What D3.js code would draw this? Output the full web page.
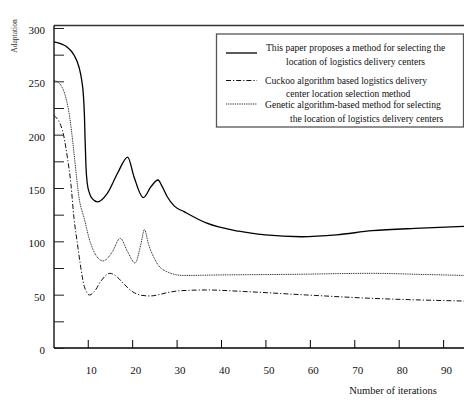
<!DOCTYPE html>
<html>
<head>
<meta charset="utf-8">
<script src="https://cdn.jsdelivr.net/npm/d3@7"></script>
<style>
  body { margin: 0; background: #fff; }
  svg text { font-family: "Liberation Serif", "Times New Roman", "DejaVu Serif", serif; }
</style>
</head>
<body>
<div id="chart"></div>
<script>
// values
const paperX = [2.4, 5.4, 6.9, 8.0, 8.6, 9.0, 9.25, 9.4, 9.6, 9.9, 10.4, 11, 12.2, 14.4, 16.7, 19, 20.4, 22.5, 24.2, 25.8, 26.8, 27.9, 29.5, 31.7, 36.8, 44, 50, 58, 66, 74, 85, 95];
const paperY = [287, 282, 274.7, 263.7, 252, 238, 218, 195, 170, 154, 145, 140, 137, 145, 163.8, 179, 160.6, 141, 151, 157.5, 151, 141.8, 133, 127.8, 117, 109.5, 106, 104.3, 106, 110, 112.3, 114];

const cuckooX = [2.4, 4.3, 5.4, 6.2, 6.9, 7.6, 8.3, 9.2, 10.4, 11.5, 13, 15, 16.5, 18, 20, 22, 24, 26, 28, 30.8, 36.8, 45, 59.3, 74.3, 85, 95];
const cuckooY = [218, 204, 179, 154, 121.6, 100, 79, 58, 49.7, 53, 63, 70, 67, 60.6, 53, 49.5, 48.75, 50, 52, 53.7, 54.4, 53, 49.7, 46.5, 45, 44];

const geneticX = [2.4, 3.9, 5.0, 5.8, 6.5, 7.3, 8.0, 9.2, 10.5, 12, 13.5, 15.5, 17.3, 19, 20.65, 22, 22.75, 23.7, 24.8, 26, 27.8, 31.5, 40, 55, 74, 85, 95];
const geneticY = [251, 246.6, 235.6, 220, 198, 167, 141.8, 121.6, 100, 86, 81.6, 90, 102.8, 90, 79.7, 98, 111, 97, 85.6, 77, 71.6, 68, 68.5, 69, 70, 69, 68];

const xTicks = [10, 20, 30, 40, 50, 60, 70, 80, 90];
const yTicks = [0, 25, 50, 75, 100, 125, 150, 175, 200, 225, 250, 275, 300];

const legendLabels = [
  ["This paper proposes a method for selecting the", "location of logistics delivery centers"],
  ["Cuckoo algorithm based logistics delivery", "center location selection method"],
  ["Genetic algorithm-based method for selecting", "the location of logistics delivery centers"],
];
const yTitle = "Adaptation";
const xTitle = "Number of iterations";

const width = 464, height = 405;
const margin = { top: 28, right: 0, bottom: 57, left: 54 };
const serif = "Liberation Serif, Times New Roman, DejaVu Serif, serif";

const svg = d3.select("#chart").append("svg")
  .attr("width", width)
  .attr("height", height)
  .attr("font-family", serif);

const x = d3.scaleLinear()
  .domain([2.4, 94.7])
  .range([margin.left, width - margin.right]);

const y = d3.scaleLinear()
  .domain([0, 300])
  .range([height - margin.bottom, margin.top]);

// frame line on top
svg.append("line")
  .attr("x1", margin.left).attr("x2", width)
  .attr("y1", 25.5).attr("y2", 25.5)
  .attr("stroke", "#333").attr("stroke-width", 1.3);

svg.append("g")
  .attr("transform", `translate(0,${y(0)})`)
  .call(d3.axisBottom(x)
    .tickValues(xTicks)
    .tickSizeInner(-8)
    .tickSizeOuter(0)
    .tickPadding(18))
  .attr("font-family", serif)
  .call(g => g.select(".domain").attr("d", `M${margin.left},0H${width}`).attr("stroke-width", 1.3))
  .call(g => g.selectAll("text").attr("font-size", 11).attr("fill", "#111").attr("dx", 3));

svg.append("g")
  .attr("transform", `translate(${margin.left},0)`)
  .call(d3.axisLeft(y)
    .tickValues(yTicks)
    .tickFormat(d => d % 50 == 0 ? d : "")
    .tickSizeInner(-10)
    .tickSizeOuter(0)
    .tickPadding(9))
  .attr("font-family", serif)
  .call(g => g.select(".domain").attr("d", `M0,${y(0)}V25.5`).attr("stroke-width", 1.3))
  .call(g => g.selectAll("line").attr("stroke", "#222"))
  .call(g => g.selectAll("text").attr("font-size", 11).attr("fill", "#111").attr("dy", "0.5em"));

// y title, reads bottom to top
svg.append("text")
  .attr("transform", "translate(17,36) rotate(-90)")
  .attr("text-anchor", "middle")
  .attr("font-size", 7.5)
  .attr("fill", "#333")
  .text(yTitle);

svg.append("text")
  .attr("x", 393)
  .attr("y", 394)
  .attr("text-anchor", "middle")
  .attr("font-size", 10.5)
  .attr("fill", "#111")
  .text(xTitle);

svg.append("clipPath").attr("id", "plot")
  .append("rect")
  .attr("x", margin.left).attr("y", 20)
  .attr("width", width - margin.left).attr("height", y(0) - 20);

const series = [
  { xs: paperX, ys: paperY, dash: null, width: 1.3, color: "#000" },
  { xs: cuckooX, ys: cuckooY, dash: "5,2,1.2,2", width: 1, color: "#111" },
  { xs: geneticX, ys: geneticY, dash: "1,0.8", width: 1, color: "#222" },
];

const line = d3.line()
  .x(d => x(d[0]))
  .y(d => y(d[1]))
  .curve(d3.curveMonotoneX);

svg.append("g")
  .attr("clip-path", "url(#plot)")
  .selectAll("path")
  .data(series)
  .join("path")
  .attr("d", s => line(s.xs.map((v, i) => [v, s.ys[i]])))
  .attr("fill", "none")
  .attr("stroke", s => s.color)
  .attr("stroke-width", s => s.width)
  .attr("stroke-dasharray", s => s.dash);

// legend
const legend = svg.append("g");

legend.append("rect")
  .attr("x", 216.5).attr("y", 34)
  .attr("width", 247).attr("height", 93)
  .attr("fill", "#fff")
  .attr("stroke", "#555")
  .attr("stroke-width", 1.3);

const legendRows = [
  { lineY: 53, textY: 51, indent: [266, 286] },
  { lineY: 80.5, textY: 83.5, indent: [265, 286] },
  { lineY: 104, textY: 108, indent: [265, 290] },
];

legendRows.forEach((r, i) => {
  legend.append("line")
    .attr("x1", 226).attr("x2", 257)
    .attr("y1", r.lineY).attr("y2", r.lineY)
    .attr("stroke", series[i].color)
    .attr("stroke-width", series[i].width)
    .attr("stroke-dasharray", series[i].dash);

  legendLabels[i].forEach((t, j) => {
    legend.append("text")
      .attr("x", r.indent[j])
      .attr("y", r.textY + j * 13.5)
      .attr("font-size", 9.6)
      .attr("fill", "#111")
      .text(t);
  });
});
</script>
</body>
</html>
